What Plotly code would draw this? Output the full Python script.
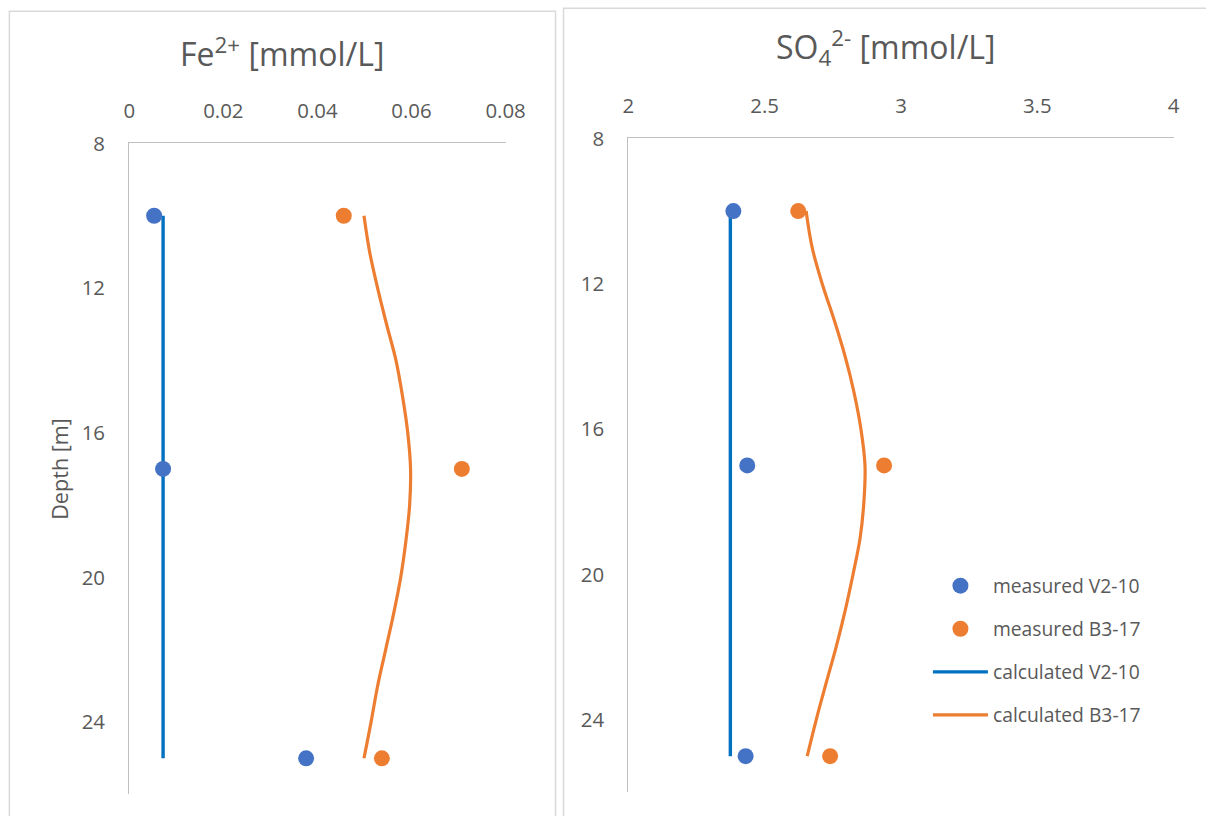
import plotly.graph_objects as go

# Depths (m) of measured samples
depth_measured = [10, 17, 25]

# Fe2+ (mmol/L)
fe_meas_v2 = [0.0053, 0.0072, 0.0376]
fe_meas_b3 = [0.0456, 0.0707, 0.0537]
fe_calc_v2_depth = [10, 25]
fe_calc_v2 = [0.0072, 0.0072]
calc_depth = [10, 11, 12, 13, 14, 15, 16, 17, 18, 19, 20, 21, 22, 23, 24, 25]
fe_calc_b3 = [0.0499, 0.0511, 0.0528, 0.0547, 0.0567, 0.0581, 0.0592, 0.0598,
              0.0596, 0.0588, 0.0577, 0.0562, 0.0545, 0.0528, 0.0514, 0.0499]

# SO4 2- (mmol/L)
so4_meas_v2 = [2.385, 2.436, 2.430]
so4_meas_b3 = [2.623, 2.938, 2.740]
so4_calc_v2_depth = [10, 25]
so4_calc_v2 = [2.374, 2.374]
so4_calc_b3 = [2.652, 2.674, 2.711, 2.755, 2.795, 2.828, 2.853, 2.868,
               2.864, 2.850, 2.824, 2.795, 2.762, 2.725, 2.689, 2.656]

fe_ticks = [0, 0.02, 0.04, 0.06, 0.08]
so4_ticks = [2, 2.5, 3, 3.5, 4]
depth_ticks = [8, 12, 16, 20, 24]

BLUE_M = "#4472C4"
ORANGE_M = "#ED7D31"
BLUE_L = "#0070C0"
ORANGE_L = "#ED7D31"
TEXT = "#595959"
AXIS = "#BFBFBF"
BORDER = "#D9D9D9"
FONT = "'Open Sans', 'Noto Sans', sans-serif"

W, H = 1206, 816
# page placement of the drawing (scale and offset in px)
K, OX, OY = 0.98, 4.6, 13.8


def fx(p):
    """page x pixel -> paper fraction"""
    return (p - OX) / K / W


def fy(p):
    """page y pixel (from top) -> paper fraction"""
    return 1 - (p - OY) / K / H


fig = go.Figure()


def add_panel(xa, ya, meas_v2, meas_b3, calc_v2_d, calc_v2, calc_b3, legend):
    fig.add_trace(go.Scatter(x=calc_v2, y=calc_v2_d, mode="lines",
                             line=dict(color=BLUE_L, width=3.4),
                             name="calculated V2-10", xaxis=xa, yaxis=ya,
                             showlegend=legend, legendgroup="c", legendrank=3))
    fig.add_trace(go.Scatter(x=calc_b3, y=calc_depth, mode="lines",
                             line=dict(color=ORANGE_L, width=3.2, shape="spline"),
                             name="calculated B3-17", xaxis=xa, yaxis=ya,
                             showlegend=legend, legendgroup="d", legendrank=4))
    fig.add_trace(go.Scatter(x=meas_v2, y=depth_measured, mode="markers",
                             marker=dict(color=BLUE_M, size=16),
                             name="measured V2-10", xaxis=xa, yaxis=ya,
                             showlegend=legend, legendgroup="a", legendrank=1))
    fig.add_trace(go.Scatter(x=meas_b3, y=depth_measured, mode="markers",
                             marker=dict(color=ORANGE_M, size=16),
                             name="measured B3-17", xaxis=xa, yaxis=ya,
                             showlegend=legend, legendgroup="b", legendrank=2))


add_panel("x", "y", fe_meas_v2, fe_meas_b3, fe_calc_v2_depth, fe_calc_v2,
          fe_calc_b3, False)
add_panel("x2", "y2", so4_meas_v2, so4_meas_b3, so4_calc_v2_depth, so4_calc_v2,
          so4_calc_b3, True)

xcommon = dict(side="top", showline=True, linecolor=AXIS, linewidth=1.3,
               showgrid=False, zeroline=False, ticks="",
               tickfont=dict(family=FONT, size=20.4, color=TEXT),
               ticklabelstandoff=16)
ycommon = dict(autorange=False, range=[26, 8], showline=True, linecolor=AXIS,
               linewidth=1.3, showgrid=False, zeroline=False, ticks="",
               tickvals=depth_ticks,
               tickfont=dict(family=FONT, size=20.4, color=TEXT),
               ticklabelstandoff=19)

fig.update_layout(
    width=W, height=H,
    margin=dict(l=0, r=0, t=0, b=0),
    paper_bgcolor="white", plot_bgcolor="white",
    font=dict(family=FONT, color=TEXT),
    xaxis=dict(domain=[fx(128), fx(505)], range=[0, 0.08], tickvals=fe_ticks,
               anchor="y", **xcommon),
    yaxis=dict(domain=[fy(792), fy(142)], anchor="x",
               title=dict(text="Depth [m]", font=dict(family=FONT, size=21.6, color=TEXT),
                          standoff=7),
               **ycommon),
    xaxis2=dict(domain=[fx(628), fx(1174)], range=[2, 4], tickvals=so4_ticks,
                anchor="y2", **xcommon),
    yaxis2=dict(domain=[fy(790), fy(137)], anchor="x2", **ycommon),
    legend=dict(x=fx(928), y=fy(564.5), xanchor="left", yanchor="top",
                font=dict(family=FONT, size=19.3, color=TEXT),
                tracegroupgap=15, itemwidth=55, bgcolor="rgba(0,0,0,0)"),
    showlegend=True,
)

# Panel frames
fig.add_shape(type="rect", xref="paper", yref="paper",
              x0=fx(8), x1=fx(555), y0=fy(850), y1=fy(10),
              line=dict(color=BORDER, width=1.5), fillcolor="rgba(0,0,0,0)", layer="below")
fig.add_shape(type="rect", xref="paper", yref="paper",
              x0=fx(563), x1=fx(1240), y0=fy(850), y1=fy(7),
              line=dict(color=BORDER, width=1.5), fillcolor="rgba(0,0,0,0)", layer="below")

# Panel titles
fig.add_annotation(text="Fe<sup>2+</sup> [mmol/L]", xref="paper", yref="paper",
                   x=fx(281), y=fy(51), xanchor="center", yanchor="middle",
                   showarrow=False, font=dict(family=FONT, size=32, color=TEXT))
fig.add_annotation(text="SO<sub>4</sub><sup>2-</sup> [mmol/L]", xref="paper", yref="paper",
                   x=fx(886), y=fy(46.7), xanchor="center", yanchor="middle",
                   showarrow=False, font=dict(family=FONT, size=32, color=TEXT))

fig.write_html("out.html")
